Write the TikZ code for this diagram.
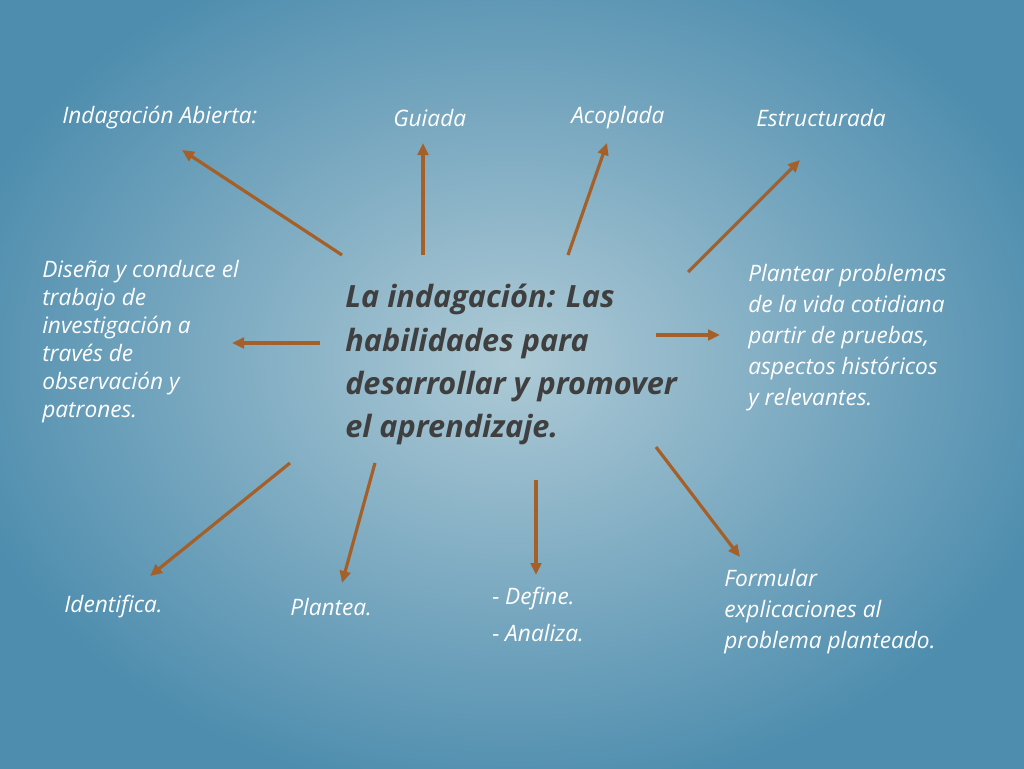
\documentclass[tikz,border=0pt]{standalone}
\usepackage{fontspec}
\setmainfont{Open Sans}
\usetikzlibrary{arrows.meta, positioning}
\definecolor{arrowbrown}{HTML}{A5602A}
\definecolor{bginner}{HTML}{AECAD6}
\definecolor{bgouter}{HTML}{4E8DAE}
\definecolor{titlegrey}{HTML}{3F3F3F}
\tikzset{
  link/.style={-{Triangle[length=9pt,width=8pt]}, line width=2.4pt, draw=arrowbrown},
  label/.style={text=white, font=\itshape\fontsize{17}{21}\selectfont, inner sep=0pt, align=left},
  block/.style={label, anchor=north west}
}
\begin{document}
\begin{tikzpicture}[x=0.75pt, y=-0.75pt]

  % background
  \useasboundingbox (0,0) rectangle (1024,768);
  \clip (0,0) rectangle (1024,768);
  \shade[inner color=bginner, outer color=bgouter] (-60,-80) rectangle (1084,800);

  % centre
  \node[anchor=north west, text=titlegrey, inner sep=0pt, align=left,
        font=\bfseries\itshape\fontsize{23}{32.5}\selectfont] (centre) at (345,284)
        {La indagación: Las\\ habilidades para\\ desarrollar y promover\\ el aprendizaje.};

  % top labels
  \node[label, anchor=west] (abierta) at (62,118) {Indagación Abierta:};
  \node[label, anchor=west] (guiada) at (393,118) {Guiada};
  \node[label, anchor=west] (acoplada) at (571,118) {Acoplada};
  \node[label, anchor=west] (estructurada) at (756,118) {Estructurada};

  % side blocks
  \node[block] (disena) at (42,260) {Diseña y conduce el\\ trabajo de\\ investigación a\\ través de\\ observación y\\ patrones.};
  \node[block, font=\itshape\fontsize{17}{23.3}\selectfont] (plantear) at (748,264) {Plantear problemas\\ de la vida cotidiana\\ partir de pruebas,\\ aspectos históricos\\ y relevantes.};

  % bottom labels
  \node[label, anchor=west] (identifica) at (64,607) {Identifica.};
  \node[label, anchor=west] (plantea) at (290,607) {Plantea.};
  \node[block, font=\itshape\fontsize{17}{27.5}\selectfont] (define) at (492,587) {- Define.\\ - Analiza.};
  \node[block, font=\itshape\fontsize{17}{23.3}\selectfont] (formular) at (724,569) {Formular\\ explicaciones al\\ problema planteado.};

  % arrow ends
  \coordinate (s1) at (342,255); \coordinate (e1) at (182,150);
  \coordinate (s2) at (423,255); \coordinate (e2) at (423,143);
  \coordinate (s3) at (568,255); \coordinate (e3) at (607,143);
  \coordinate (s4) at (688,272); \coordinate (e4) at (800,160);
  \coordinate (s5) at (320,343); \coordinate (e5) at (232,343);
  \coordinate (s6) at (656,335); \coordinate (e6) at (720,335);
  \coordinate (s7) at (290,463); \coordinate (e7) at (150,576);
  \coordinate (s8) at (375,463); \coordinate (e8) at (342,583);
  \coordinate (s9) at (536,480); \coordinate (e9) at (536,575);
  \coordinate (s10) at (656,447); \coordinate (e10) at (740,557);

  \foreach \i in {1,...,10}
    \draw[link] (s\i) -- (e\i);

\end{tikzpicture}
\end{document}
